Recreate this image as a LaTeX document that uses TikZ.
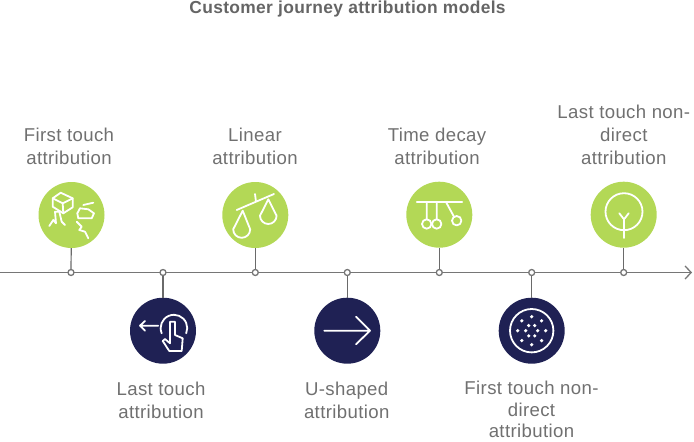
\documentclass[tikz,border=0pt]{standalone}
\usepackage{fontspec}
\setmainfont[LetterSpace=2]{Liberation Sans}
\usetikzlibrary{arrows.meta, positioning}
\definecolor{JourneyGreen}{RGB}{179, 216, 86}
\definecolor{JourneyNavy}{RGB}{31, 33, 84}
\definecolor{JourneyLine}{RGB}{118, 118, 118}
\definecolor{JourneyText}{RGB}{112, 112, 112}
\tikzset{
  lightdisc/.style={circle, fill=JourneyGreen, minimum size=66pt, inner sep=0pt},
  darkdisc/.style={circle, fill=JourneyNavy, minimum size=66pt, inner sep=0pt},
  hub/.style={circle, fill=white, draw=JourneyLine, line width=1.3pt, minimum size=6pt, inner sep=0pt},
  stem/.style={draw=JourneyLine!90!black, line width=1.2pt},
  icon/.style={draw=white, line width=1.8pt, line cap=round, line join=round},
  steplabel/.style={text=JourneyText, align=center, font=\fontsize{18.6}{23.3}\selectfont, inner sep=0pt}
}
\begin{document}
\begin{tikzpicture}[x=1pt, y=-1pt]
  \useasboundingbox (0,0) rectangle (694,442);
  \node[font=\fontsize{17.4}{20}\selectfont\bfseries, text=JourneyText!90!black, inner sep=0pt] (title) at (347.5,9) {Customer journey attribution models};

  % axis
  \coordinate (axisstart) at (0,272.5);
  \coordinate (axisend) at (692,272.5);
  \draw[JourneyLine, line width=1.3pt, -{Straight Barb[length=6pt, width=13pt]}] (axisstart) -- (axisend);

  % discs
  \node[lightdisc] (firstdisc) at (71.5,215) {};
  \node[darkdisc] (lastdisc) at (163,330.7) {};
  \node[lightdisc] (lineardisc) at (255.3,215) {};
  \node[darkdisc] (udisc) at (347.3,330.7) {};
  \node[lightdisc] (decaydisc) at (439.3,214.7) {};
  \node[darkdisc] (nondirectdisc) at (531.7,330.7) {};
  \node[lightdisc] (lastnondisc) at (623.7,214.7) {};

  % hubs and stems
  \foreach \disc/\hubname/\hubx in {firstdisc/firsthub/71, lastdisc/lasthub/163, lineardisc/linearhub/255.3, udisc/uhub/347.3, decaydisc/decayhub/439.3, nondirectdisc/nondirecthub/531.7, lastnondisc/lastnonhub/623.7} {
    \node[hub] (\hubname) at (\hubx,272.5) {};
    \draw[stem] (\disc) -- (\hubname);
  }

  % labels
  \node[steplabel] (firstlabel) at (69,146.5) {First touch\\attribution};
  \node[steplabel] (lastlabel) at (161,400) {Last touch\\attribution};
  \node[steplabel] (linearlabel) at (255,146.5) {Linear\\attribution};
  \node[steplabel] (ulabel) at (346.7,400) {U-shaped\\attribution};
  \node[steplabel] (decaylabel) at (437,146.5) {Time decay\\attribution};
  \node[steplabel] (nondirectlabel) at (531.5,409.5) {First touch non-\\[-1.5pt]direct\\[-1.5pt]attribution};
  \node[steplabel] (lastnonlabel) at (623.8,135) {Last touch non-\\direct\\attribution};

  % icons
  \draw[icon] (52.7,198.3) -- (60.7,192.7) -- (72.7,198.3) -- (72.7,207.3) -- (63.3,213.3) -- (52.7,206.7) -- cycle;
  \draw[icon] (52.7,198.3) -- (62.7,203.3) -- (72.7,198.3) (62.7,203.3) -- (63.3,213.3);
  \draw[icon] (49.3,226) -- (53.3,220) -- (56,223.3) -- (55,211.7) -- (59.3,211.7) -- (61.7,221.7) -- (65,225);
  \draw[icon] (77.3,213.3) -- (80,208.3) -- (88.3,209.3) -- (94,213.3) -- (91.7,218.3) -- (78.3,218.3) -- cycle;
  \draw[icon] (83.3,205) -- (93.3,202.7);
  \draw[icon] (76.7,221.7) -- (81.7,226.7) -- (79.3,230) -- (85,231.7) -- (88.3,238.3);

  \draw[icon] (140,325.7) -- (158.3,325.7) (145,321) -- (140,325.7) -- (145,330.7);
  \draw[icon] (161.7,333.3) arc[start angle=203, end angle=-23, radius=13.3pt];
  \draw[icon] (170,321.7) -- (175,321.7) -- (175,335) -- (182.7,338.3) -- (181.7,351) -- (169.3,351) -- (162.7,341) -- (165,339) -- (170,343.3) -- cycle;

  \draw[icon] (236.7,210) -- (274,194) (255,194) -- (256,201.7);
  \draw[icon] (242.7,210.7) -- (233.2,229.3) arc[start angle=180, end angle=360, radius=8.5pt] -- cycle;
  \draw[icon] (268.3,199.3) -- (260,215.7) arc[start angle=180, end angle=360, radius=8.3pt] -- cycle;

  \draw[icon] (324.3,330.7) -- (369.3,330.7) (356,316.7) -- (370,330.7) -- (356,344.3);

  \draw[icon] (416.7,202) -- (462.3,202) (426.7,202) -- (426.7,219.3) (436.7,202) -- (436.7,219.3) (446,202) -- (454,216.7);
  \foreach \ballx/\bally in {426.7/224, 436.7/224, 456.7/220.7} {
    \draw[icon] (\ballx,\bally) circle[radius=4.7pt];
  }

  \draw[icon] (531.7,330.7) circle[radius=21.7pt];
  \foreach \angl in {0,45,...,315} {
    \fill[white] (531.7,330.7) ++(\angl:14pt) circle[radius=1.8pt];
  }
  \foreach \angl in {0,60,...,300} {
    \fill[white] (531.7,330.7) ++(\angl:6pt) circle[radius=1.8pt];
  }

  \draw[icon] (624,211.7) circle[radius=18.5pt];
  \draw[icon] (619.3,213.3) -- (624,219.3) -- (628.7,213.3) (624,219.3) -- (624,238);
\end{tikzpicture}
\end{document}
